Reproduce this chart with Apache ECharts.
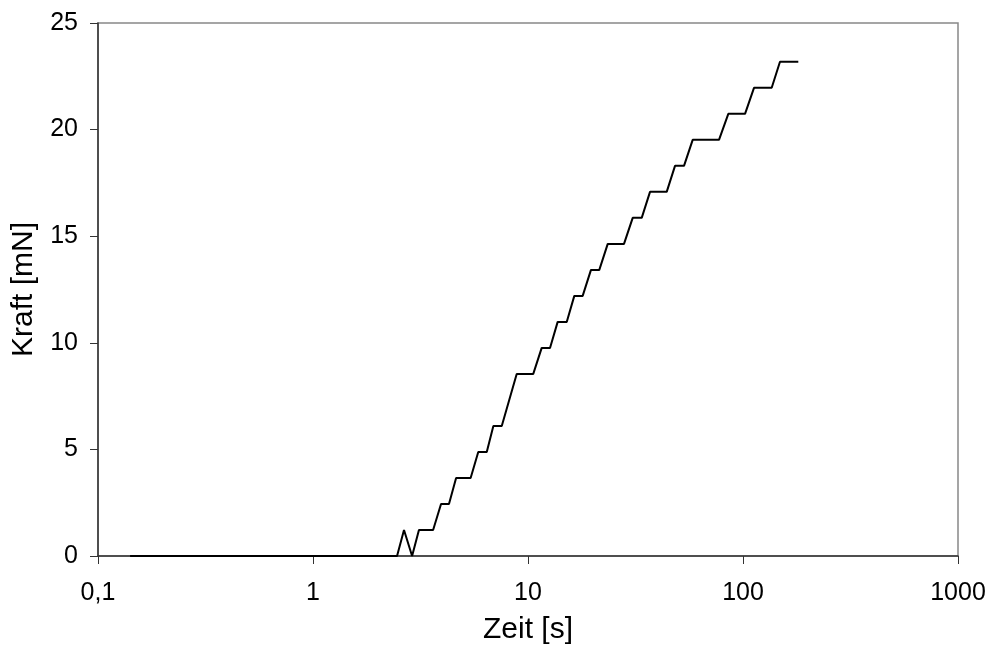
<!DOCTYPE html>
<html>
<head>
<meta charset="utf-8">
<script src="https://cdn.jsdelivr.net/npm/echarts@6/dist/echarts.min.js"></script>
<style>
  html, body { margin: 0; padding: 0; background: #fff; }
  #chart { width: 990px; height: 652px; }
</style>
</head>
<body>
<div id="chart"></div>
<script>
// Zeit [s] (log axis) and Kraft [mN]
var zeit = [0.141, 2.46, 2.65, 2.89, 3.11, 3.62, 3.94, 4.29, 4.63, 5.41, 5.87, 6.43, 6.90, 7.55,
  8.86, 10.58, 11.58, 12.66, 13.74, 15.14, 16.42, 17.96, 19.63, 21.46, 23.49, 27.96, 30.69, 33.80,
  36.94, 44.17, 48.28, 53.16, 58.34, 77.33, 85.44, 102.2, 112.5, 136.0, 148.6, 180.8]
var kraft = [0, 0, 1.22, 0, 1.22, 1.22, 2.44, 2.44, 3.66, 3.66, 4.88, 4.88, 6.10, 6.10,
  8.54, 8.54, 9.76, 9.76, 10.98, 10.98, 12.2, 12.2, 13.42, 13.42, 14.64, 14.64, 15.86, 15.86,
  17.08, 17.08, 18.3, 18.3, 19.52, 19.52, 20.74, 20.74, 21.96, 21.96, 23.18, 23.18]

var yTicks = { min: 0, max: 25, interval: 5 }
var xRange = { min: 0.1, max: 1000 }

var chart = echarts.init(document.getElementById('chart'), null, { renderer: 'canvas' })

var points = zeit.map(function (t, i) { return [t, kraft[i]] })

var font = '"Liberation Sans", Arial, sans-serif'

chart.setOption({
  animation: false,
  backgroundColor: '#fff',
  grid: {
    left: 98,
    right: 32,
    top: 23,
    bottom: 96,
    show: true,
    borderColor: '#888',
    borderWidth: 1.5,
    backgroundColor: '#fff'
  },
  xAxis: {
    type: 'log',
    logBase: 10,
    min: xRange.min,
    max: xRange.max,
    name: 'Zeit [s]',
    nameLocation: 'middle',
    nameGap: 59,
    nameTextStyle: { color: '#000', fontSize: 30, fontFamily: font },
    axisLine: { show: true, onZero: false, lineStyle: { color: '#333', width: 1.5 } },
    axisTick: { show: true, length: 8, lineStyle: { color: '#333', width: 1 } },
    minorTick: { show: false },
    splitLine: { show: false },
    axisLabel: {
      color: '#000',
      fontSize: 25,
      fontFamily: font,
      margin: 25,
      formatter: function (v) { return String(v).replace('.', ',') }
    }
  },
  yAxis: {
    type: 'value',
    min: yTicks.min,
    max: yTicks.max,
    interval: yTicks.interval,
    name: 'Kraft [mN]',
    nameLocation: 'middle',
    nameGap: 59,
    nameTextStyle: { color: '#000', fontSize: 30, fontFamily: font },
    axisLine: { show: true, lineStyle: { color: '#333', width: 1.5 } },
    axisTick: { show: true, length: 8, lineStyle: { color: '#333', width: 1 } },
    splitLine: { show: false },
    axisLabel: { color: '#000', fontSize: 25, fontFamily: font, margin: 20 }
  },
  series: [
    {
      type: 'line',
      data: points,
      showSymbol: false,
      symbol: 'none',
      lineStyle: { color: '#000', width: 2 },
      clip: true
    }
  ]
})
</script>
</body>
</html>
